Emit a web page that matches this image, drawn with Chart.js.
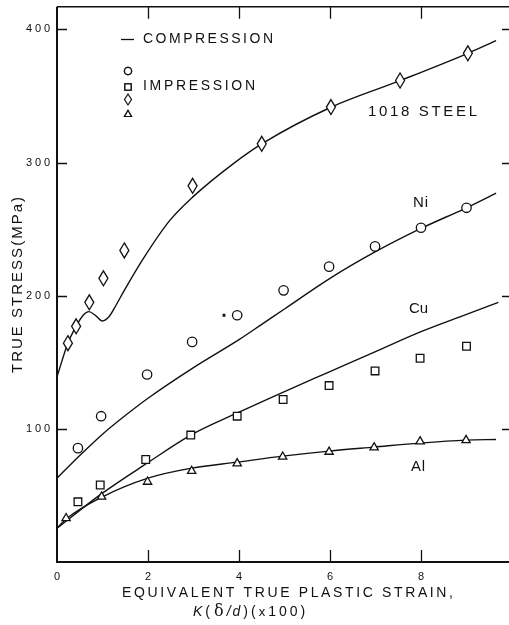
<!DOCTYPE html>
<html>
<head>
<meta charset="utf-8">
<script src="https://cdn.jsdelivr.net/npm/chart.js@4.4.1/dist/chart.umd.min.js"></script>
<style>
  html, body { margin: 0; padding: 0; background: #fff; overflow: hidden; }
  #wrap { width: 530px; height: 625px; }
</style>
</head>
<body>
<div id="wrap"><canvas id="c" width="530" height="625"></canvas></div>
<script>
// Compression curves: [strain (x100), true stress MPa]
const steelCurve = [[0,139],[0.24,164.5],[0.42,177],[0.58,185.5],[0.7,188],[0.85,185],[1.0,181],[1.15,184.5],[1.3,193],[1.48,204],[1.9,228],[2.48,256.5],[2.98,274],[3.87,299],[4.5,314],[6.02,341.5],[7.54,361.5],[9.03,382],[9.65,391.5]];
const niCurve    = [[0,63],[0.5,80],[1.0,96],[1.5,110],[2.0,123],[3.0,146],[4.0,167],[4.5,178.5],[5.0,190],[6.0,213],[7.0,233],[8.0,250.5],[9.0,266],[9.65,277]];
const cuCurve    = [[0,25.3],[0.99,51.5],[1.97,74],[2.94,95.3],[4.0,112.5],[5.0,128],[6.0,143],[7.0,158],[8.0,173],[9.0,186],[9.7,195]];
const alCurve    = [[0,25.3],[0.2,32.3],[0.99,48.8],[2.0,63],[2.96,70.5],[3.96,75],[4.96,79.5],[5.98,83.3],[6.97,86.3],[7.98,89.3],[8.99,91.5],[9.65,92]];

// Impression test points
const steelPts = [[0.24,164.3],[0.42,177],[0.71,195],[1.02,213],[1.48,234],[2.98,282.5],[4.5,314],[6.02,341.6],[7.54,361.6],[9.03,382]];
const niPts    = [[0.46,85.5],[0.97,109.5],[1.98,140.8],[2.97,165.3],[3.96,185.3],[4.98,204],[5.98,221.8],[6.99,237],[8.0,251],[9.0,266]];
const cuPts    = [[0.46,45.2],[0.95,57.8],[1.95,77],[2.94,95.3],[3.96,109.5],[4.97,122],[5.98,132.5],[6.99,143.5],[7.98,153],[9.0,162]];
const alPts    = [[0.2,32.8],[0.98,49],[1.99,60.2],[2.96,68.3],[3.96,74],[4.96,79],[5.98,82.7],[6.97,86],[7.98,90.5],[8.99,91.5]];
const specks   = [[3.67,185.3]];

const xTicks = [0, 2, 4, 6, 8];
const yTicks = [100, 200, 300, 400];

const INK = '#111';
const FONT = '"Liberation Sans", Arial, Helvetica, sans-serif';

const toPts = arr => arr.map(([x, y]) => ({ x, y }));

// tall hollow diamond outline
function diamond(ctx, cx, cy, w, h) {
  ctx.beginPath();
  ctx.moveTo(cx, cy - h / 2);
  ctx.lineTo(cx + w / 2, cy);
  ctx.lineTo(cx, cy + h / 2);
  ctx.lineTo(cx - w / 2, cy);
  ctx.closePath();
  ctx.fillStyle = '#fff';
  ctx.fill();
  ctx.stroke();
}

function curveSet(data) {
  return {
    data: toPts(data), showLine: true, pointRadius: 0, borderColor: INK,
    borderWidth: 1.4, cubicInterpolationMode: 'monotone', fill: false, order: 2
  };
}
function markerSet(data, style, radius) {
  return {
    data: toPts(data), showLine: false, pointStyle: style, pointRadius: radius,
    pointBorderColor: INK, pointBackgroundColor: '#fff', pointBorderWidth: 1.3, order: 1
  };
}

// draw text with even letter spacing so that it spans a given width
function spacedText(ctx, text, x, y, width, font) {
  ctx.font = font;
  const chars = [...text];
  const natural = chars.reduce((s, ch) => s + ctx.measureText(ch).width, 0);
  const gap = chars.length > 1 ? (width - natural) / (chars.length - 1) : 0;
  let cx = x;
  ctx.textAlign = 'left';
  ctx.textBaseline = 'middle';
  for (const ch of chars) {
    ctx.fillText(ch, cx, y);
    cx += ctx.measureText(ch).width + gap;
  }
}

const decor = {
  id: 'decor',
  afterDatasetsDraw(chart) {
    // steel impression points as tall diamonds, placed by the chart's scales
    const { ctx } = chart;
    const meta = chart.getDatasetMeta(0);
    ctx.save();
    ctx.strokeStyle = INK;
    ctx.lineWidth = 1.3;
    for (const el of meta.data) diamond(ctx, el.x, el.y, 9, 15);
    ctx.restore();
  },
  afterDraw(chart) {
    const { ctx, chartArea: a, scales: { x, y } } = chart;
    ctx.save();
    ctx.strokeStyle = INK;
    ctx.fillStyle = INK;

    // frame
    ctx.lineWidth = 2;
    ctx.beginPath();
    ctx.moveTo(a.left, a.top); ctx.lineTo(a.left, a.bottom); ctx.lineTo(a.right, a.bottom);
    ctx.stroke();
    ctx.lineWidth = 1.6;
    ctx.beginPath();
    ctx.moveTo(a.left, a.top); ctx.lineTo(a.right, a.top); ctx.lineTo(a.right, a.bottom);
    ctx.stroke();

    // inward ticks
    ctx.lineWidth = 1.3;
    ctx.beginPath();
    for (const v of yTicks) {
      const py = Math.round(y.getPixelForValue(v)) + 0.5;
      ctx.moveTo(a.left, py); ctx.lineTo(a.left + 10, py);
      ctx.moveTo(a.right, py); ctx.lineTo(a.right - 10, py);
    }
    for (const v of xTicks) {
      if (v === 0) continue;
      const px = Math.round(x.getPixelForValue(v)) + 0.5;
      ctx.moveTo(px, a.bottom); ctx.lineTo(px, a.bottom - 12);
      ctx.moveTo(px, a.top); ctx.lineTo(px, a.top + 12);
    }
    ctx.stroke();

    // tick labels
    for (const v of yTicks) {
      spacedText(ctx, String(v), a.left - 31, y.getPixelForValue(v), 24, '11px ' + FONT);
    }
    ctx.font = '11px ' + FONT;
    ctx.textAlign = 'center';
    ctx.textBaseline = 'middle';
    for (const v of xTicks) ctx.fillText(String(v), x.getPixelForValue(v), a.bottom + 15);

    // axis titles
    spacedText(ctx, 'EQUIVALENT TRUE PLASTIC STRAIN,', 122, 593, 331, '14px ' + FONT);
    const parts = [
      ['K', 'italic 14px ' + FONT, 3],
      ['(', '14px ' + FONT, 4],
      ['δ', '16px "DejaVu Serif", serif', 3],
      ['/', 'italic 14px ' + FONT, 2],
      ['d', 'italic 14px ' + FONT, 3],
      [')', '14px ' + FONT, 3],
      ['(', '14px ' + FONT, 3],
      ['x', '13px ' + FONT, 3],
      ['1', '14px ' + FONT, 3],
      ['0', '14px ' + FONT, 3],
      ['0', '14px ' + FONT, 3],
      [')', '14px ' + FONT, 0]
    ];
    let px = 193;
    ctx.textAlign = 'left';
    ctx.textBaseline = 'middle';
    for (const [t, f, g] of parts) {
      ctx.font = f;
      ctx.fillText(t, px, 612);
      px += ctx.measureText(t).width + g;
    }

    ctx.save();
    ctx.translate(18, 285);
    ctx.rotate(-Math.PI / 2);
    spacedText(ctx, 'TRUE STRESS(MPa)', -88, 0, 176, '15px ' + FONT);
    ctx.restore();

    // legend
    ctx.lineWidth = 1.3;
    ctx.beginPath();
    ctx.moveTo(121, 39.5); ctx.lineTo(134, 39.5);
    ctx.stroke();
    spacedText(ctx, 'COMPRESSION', 143, 39, 130, '14px ' + FONT);
    spacedText(ctx, 'IMPRESSION', 143, 86, 112, '14px ' + FONT);
    const mk = { borderWidth: 1.2, rotation: 0 };
    ctx.fillStyle = '#fff';
    Chart.helpers.drawPoint(ctx, { ...mk, pointStyle: 'circle', radius: 3.6 }, 128, 71);
    ctx.fill(); ctx.stroke();
    Chart.helpers.drawPoint(ctx, { ...mk, pointStyle: 'rect', radius: 4.4 }, 128, 87);
    ctx.fill(); ctx.stroke();
    ctx.lineWidth = 1.2;
    diamond(ctx, 128, 99.5, 7, 11);
    Chart.helpers.drawPoint(ctx, { ...mk, pointStyle: 'triangle', radius: 4 }, 128, 114.5);
    ctx.fillStyle = '#fff';
    ctx.fill(); ctx.stroke();

    // curve labels
    ctx.fillStyle = INK;
    spacedText(ctx, '1018 STEEL', 368, 112, 109, '15px ' + FONT);
    spacedText(ctx, 'Ni', 413, 203, 15, '15px ' + FONT);
    spacedText(ctx, 'Cu', 409, 309, 19, '15px ' + FONT);
    spacedText(ctx, 'Al', 411, 467, 14, '15px ' + FONT);
    ctx.restore();
  }
};

new Chart(document.getElementById('c'), {
  type: 'scatter',
  data: {
    datasets: [
      // steel points: positioned by the scales, outlined in the plugin above
      { data: toPts(steelPts), showLine: false, pointRadius: 0, order: 1 },
      markerSet(niPts, 'circle', 4.7),
      markerSet(cuPts, 'rect', 5.4),
      markerSet(alPts, 'triangle', 4.8),
      { data: toPts(specks), pointStyle: 'rect', pointRadius: 2, pointBackgroundColor: INK,
        pointBorderColor: INK, pointBorderWidth: 0, showLine: false, order: 1 },
      curveSet(steelCurve),
      curveSet(niCurve),
      curveSet(cuCurve),
      curveSet(alCurve)
    ]
  },
  options: {
    responsive: false,
    devicePixelRatio: 1,
    animation: false,
    layout: { padding: { left: 57, right: 18, top: 6, bottom: 63 } },
    plugins: { legend: { display: false }, tooltip: { enabled: false } },
    scales: {
      x: { type: 'linear', min: 0, max: 10, display: false },
      y: { type: 'linear', min: 0, max: 417, display: false }
    }
  },
  plugins: [decor]
});
</script>
</body>
</html>
